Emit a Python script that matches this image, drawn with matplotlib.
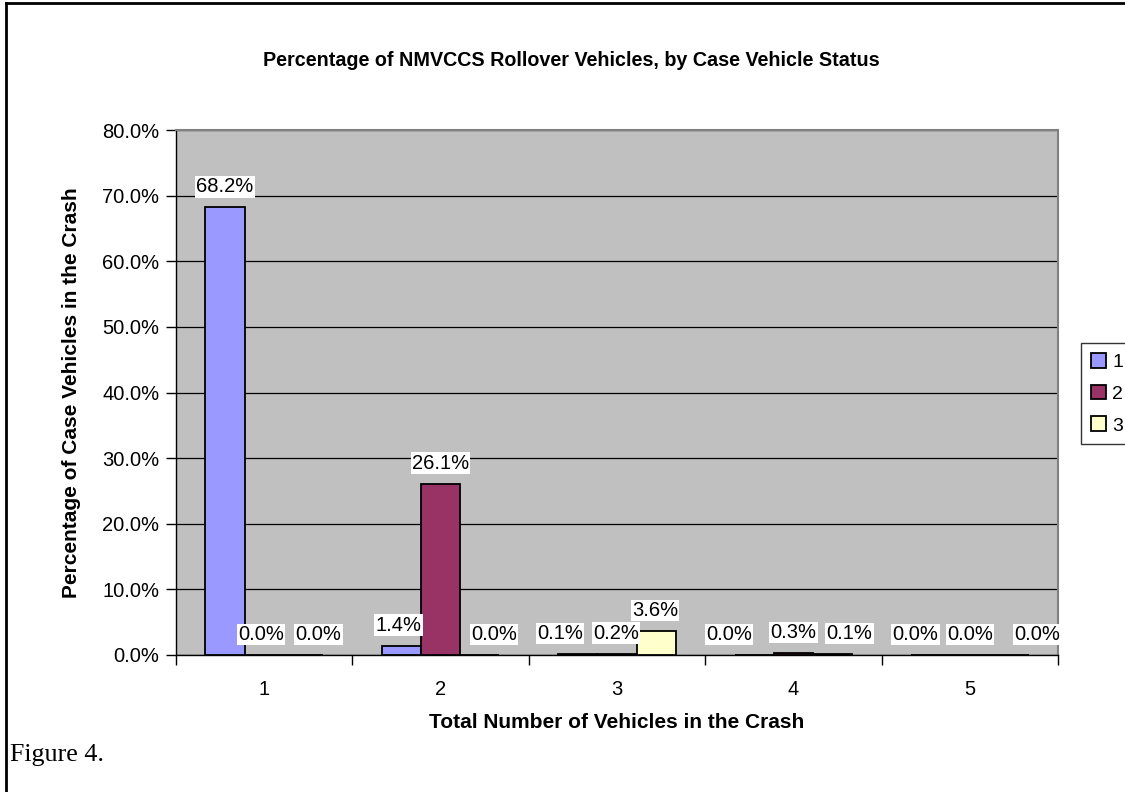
import numpy as np
import matplotlib
matplotlib.use("Agg")
import matplotlib.pyplot as plt
from matplotlib.lines import Line2D
from matplotlib.patches import Patch

categories = [1, 2, 3, 4, 5]
series_names = ["1", "2", "3"]
status_1 = [68.2, 1.4, 0.1, 0.0, 0.0]
status_2 = [0.0, 26.1, 0.2, 0.3, 0.0]
status_3 = [0.0, 0.0, 3.6, 0.1, 0.0]
colors = ["#9999FF", "#993366", "#FFFFCC"]

# horizontal nudges (pixels) Excel applied to crowded data labels
label_shift = [
    [0, -3, -18, -25, -15],
    [-3, 0, -1, 0, 0],
    [15, 14, -1, 17, 28],
]

plt.rcParams['font.family'] = ['Liberation Sans', 'DejaVu Sans']

W, H = 1125, 792
fig = plt.figure(figsize=(W / 100, H / 100), dpi=100)
ax = fig.add_axes([176 / W, 1 - 655 / H, (1058 - 176) / W, (655 - 130) / H])
ax.set_facecolor("#C0C0C0")

x = np.arange(1, len(categories) + 1)
width = 1 / 4.5
handles = []
for i, (vals, col) in enumerate(zip([status_1, status_2, status_3], colors)):
    pos = x + (i - 1) * width
    ax.bar(pos, vals, width, color=col, edgecolor="black", linewidth=1.3, zorder=3)
    for j, (p, v) in enumerate(zip(pos, vals)):
        ax.annotate("{:.1f}%".format(v), (p, v), xytext=(label_shift[i][j] * 0.72, 8),
                    textcoords="offset points", ha="center", va="bottom",
                    fontsize=14.5, zorder=4,
                    bbox=dict(facecolor="white", edgecolor="none", pad=0.8))
    handles.append(Patch(facecolor=col, edgecolor="black", linewidth=1.3))

ax.set_xlim(0.5, 5.5)
ax.set_ylim(0, 80)
ax.set_yticks(np.arange(0, 81, 10))
ax.set_yticklabels(["{:.1f}%".format(v) for v in np.arange(0, 81, 10)], fontsize=14.5)
ax.yaxis.grid(True, color="black", linewidth=0.9, zorder=1)
ax.set_axisbelow(True)

ax.set_xticks(np.arange(0.5, 6, 1))
ax.set_xticklabels([])
ax.set_xticks(x, minor=True)
ax.set_xticklabels([str(c) for c in categories], minor=True, fontsize=14.5)
ax.tick_params(axis="x", which="major", length=7, direction="out", width=1)
ax.tick_params(axis="x", which="minor", length=0, pad=18)
ax.tick_params(axis="y", length=7, direction="out", width=1, pad=5)

for s in ["top", "right"]:
    ax.spines[s].set_color("#808080")
    ax.spines[s].set_linewidth(1.5)
for s in ["left", "bottom"]:
    ax.spines[s].set_color("black")
    ax.spines[s].set_linewidth(1)

fig.text(571 / W, 1 - 60 / H, "Percentage of NMVCCS Rollover Vehicles, by Case Vehicle Status",
         ha="center", va="center", fontsize=14.2, fontweight="bold")
fig.text(617 / W, 1 - 723 / H, "Total Number of Vehicles in the Crash",
         ha="center", va="center", fontsize=15, fontweight="bold")
fig.text(72 / W, 1 - 393 / H, "Percentage of Case Vehicles in the Crash",
         ha="center", va="center", rotation=90, fontsize=15, fontweight="bold")

leg = fig.legend(handles, series_names, loc="upper left", bbox_to_anchor=(1081 / W, 1 - 343 / H),
                 fontsize=14, frameon=True, fancybox=False, edgecolor="black",
                 handlelength=0.8, handleheight=0.8, handletextpad=0.3,
                 labelspacing=0.7, borderpad=0.5, borderaxespad=0)
leg.get_frame().set_linewidth(1)

fig.text(10 / W, 1 - 761 / H, "Figure 4.", ha="left", va="baseline", fontsize=18.7,
         family=["Liberation Serif", "DejaVu Serif"])

fig.add_artist(Line2D([6 / W, 6 / W], [0, 1 - 3 / H], color="black", linewidth=2))
fig.add_artist(Line2D([6 / W, 1], [1 - 3 / H, 1 - 3 / H], color="black", linewidth=2))

fig.savefig("out.png", dpi=100)
